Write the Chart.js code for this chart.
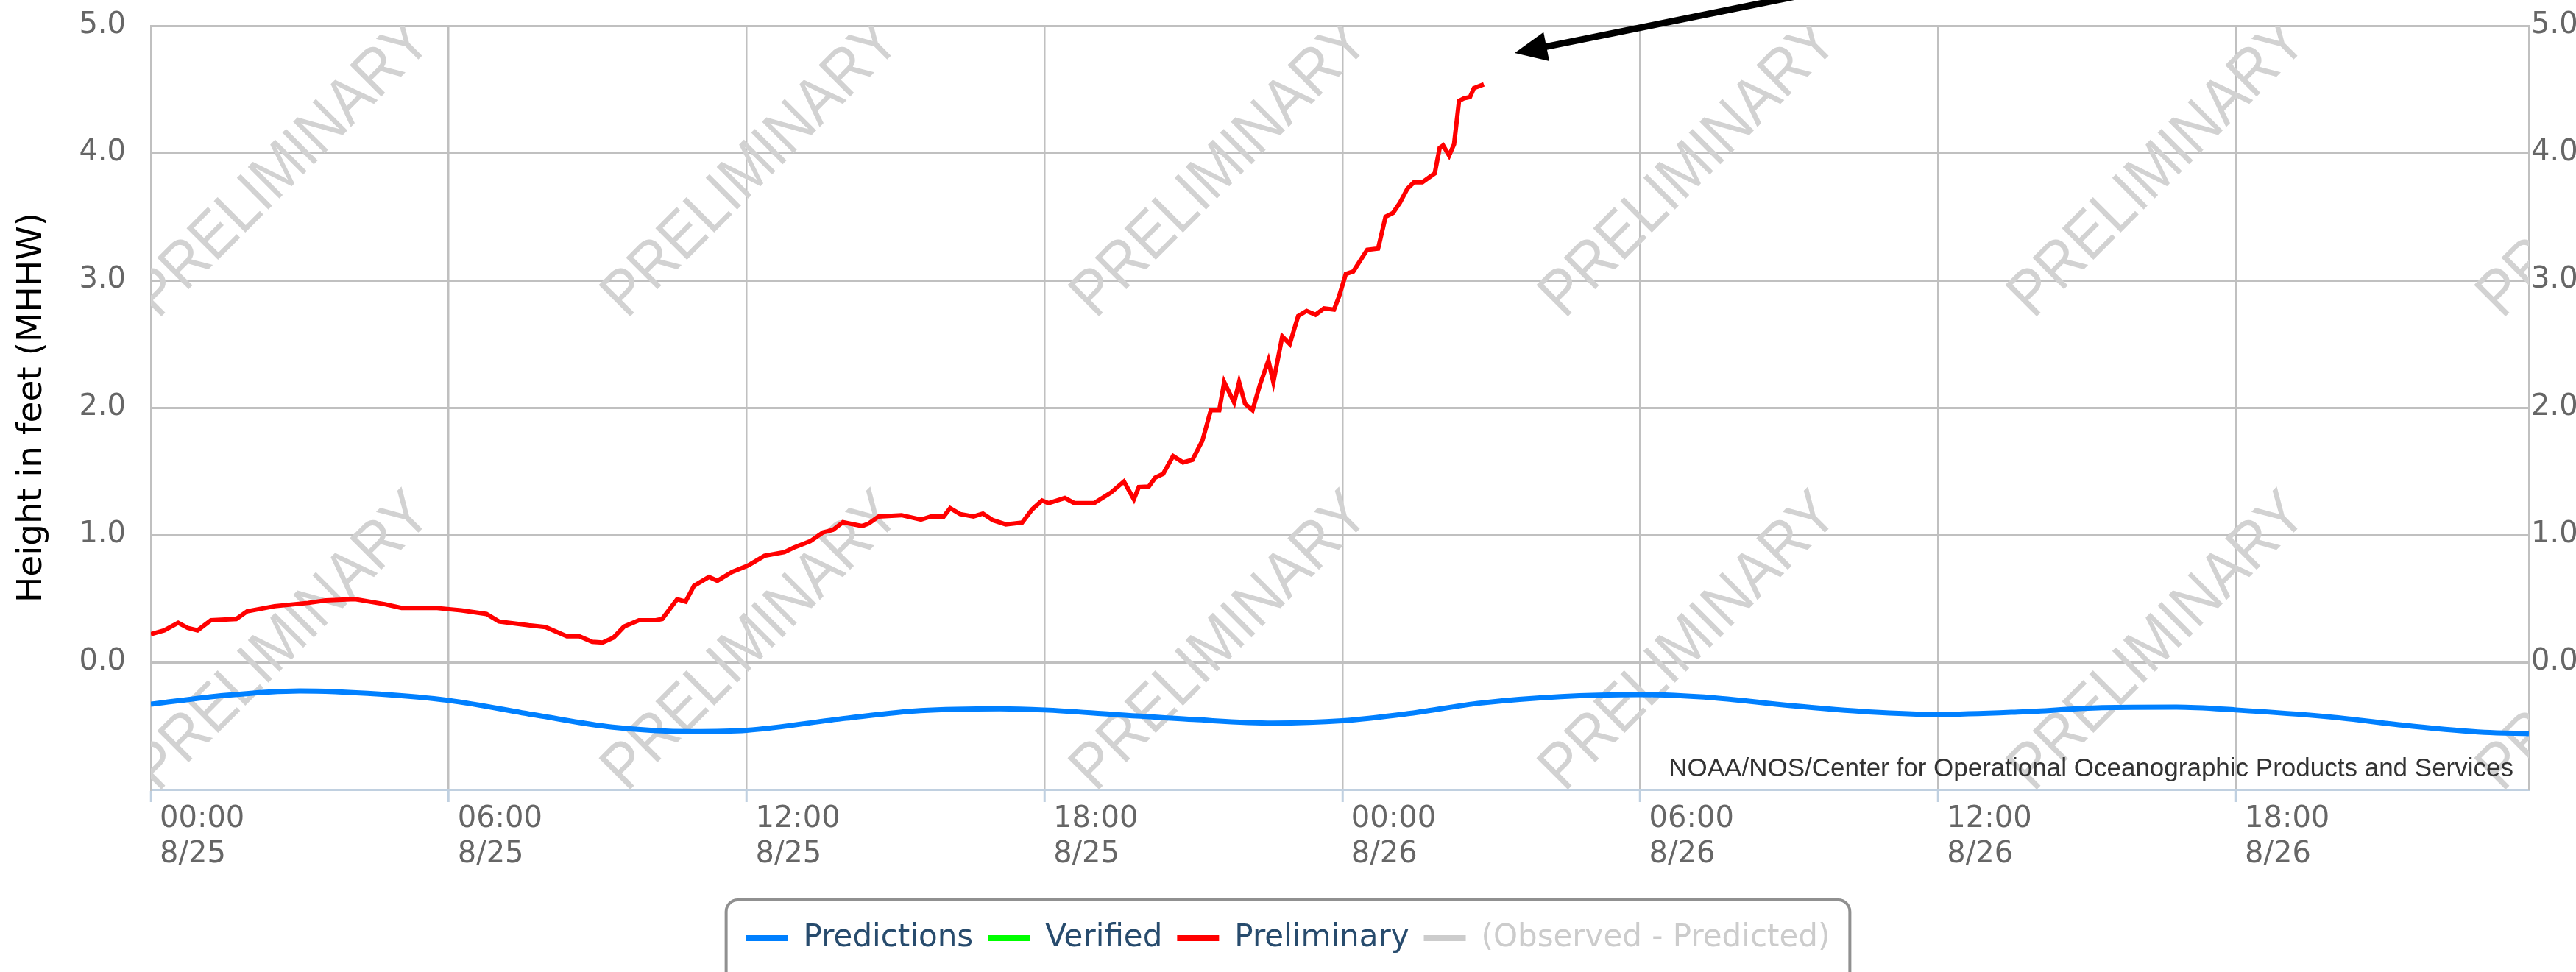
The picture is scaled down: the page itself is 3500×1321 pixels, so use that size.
<!DOCTYPE html>
<html>
<head>
<meta charset="utf-8">
<title>Water level - 8/25 to 8/26</title>
<script src="https://cdn.jsdelivr.net/npm/chart.js@4.4.1/dist/chart.umd.min.js"></script>
<style>
  body { margin: 0; background: #fff; }
  canvas { display: block; }
</style>
</head>
<body>
<canvas id="waterChart" width="3500" height="1321"></canvas>
<script>
// times are hours since 8/25 00:00, heights in feet (MHHW)
const predTimes = [0, 1.5, 3.0, 4.6, 6, 7.75, 9.3, 10.9, 12, 14, 15.5, 17.1, 18, 19.4, 21, 22.6, 24,
    25.3, 26.8, 28.4, 30, 31.5, 33, 34.6, 36, 37.7, 39.3, 40.8, 42, 43.9, 45.5, 47, 47.9];
const predValues = [-0.33, -0.26, -0.225, -0.25, -0.30, -0.415, -0.51, -0.545, -0.535, -0.44, -0.38, -0.365, -0.375, -0.41, -0.45, -0.478, -0.46,
    -0.405, -0.32, -0.27, -0.255, -0.28, -0.34, -0.39, -0.41, -0.39, -0.357, -0.353, -0.375, -0.43, -0.50, -0.55, -0.56];

const prelimTimes = [0, 0.27, 0.55, 0.74, 0.94, 1.21, 1.72, 1.94, 2.49, 3.17, 3.52, 4.11, 4.71, 5.05, 5.73,
    6.25, 6.76, 7.01, 7.61, 7.95, 8.38, 8.63, 8.89, 9.1, 9.32, 9.53, 9.83, 10.17, 10.3, 10.6, 10.77, 10.94,
    11.24, 11.41, 11.71, 12.03, 12.36, 12.76, 12.95, 13.28, 13.54, 13.74, 13.94, 14.33, 14.46, 14.66, 15.12,
    15.51, 15.71, 15.97, 16.1, 16.3, 16.57, 16.76, 16.96, 17.22, 17.55, 17.75, 17.95, 18.08, 18.41, 18.6,
    19.0, 19.33, 19.6, 19.8, 19.9, 20.1, 20.23, 20.39, 20.59, 20.79, 20.98, 21.18, 21.35, 21.52, 21.62,
    21.82, 21.92, 22.04, 22.19, 22.34, 22.51, 22.61, 22.79, 22.94, 23.11, 23.28, 23.46, 23.63, 23.83, 23.93,
    24.07, 24.22, 24.35, 24.5, 24.72, 24.87, 25.02, 25.16, 25.31, 25.44, 25.61, 25.86, 25.96, 26.03, 26.15,
    26.25, 26.35, 26.45, 26.57, 26.65, 26.85];
const prelimValues = [0.22, 0.25, 0.31, 0.27, 0.25, 0.33, 0.34, 0.40, 0.44, 0.466, 0.485, 0.495, 0.456, 0.427, 0.427,
    0.408, 0.379, 0.32, 0.29, 0.276, 0.204, 0.204, 0.16, 0.155, 0.194, 0.28, 0.33, 0.33, 0.34, 0.495, 0.476, 0.60,
    0.67, 0.64, 0.71, 0.76, 0.836, 0.865, 0.90, 0.95, 1.02, 1.04, 1.10, 1.07, 1.09, 1.145, 1.155,
    1.12, 1.145, 1.145, 1.21, 1.164, 1.145, 1.168, 1.116, 1.083, 1.097, 1.20, 1.27, 1.25, 1.29, 1.25,
    1.25, 1.33, 1.42, 1.28, 1.376, 1.38, 1.45, 1.48, 1.62, 1.57, 1.59, 1.74, 1.98, 1.98, 2.2,
    2.04, 2.2, 2.03, 1.98, 2.18, 2.37, 2.2, 2.56, 2.5, 2.72, 2.76, 2.73, 2.78, 2.77, 2.87,
    3.05, 3.07, 3.15, 3.24, 3.25, 3.5, 3.53, 3.61, 3.72, 3.77, 3.77, 3.84, 4.04, 4.06, 3.98,
    4.07, 4.41, 4.43, 4.44, 4.51, 4.54];

const xTicks = [0, 6, 12, 18, 24, 30, 36, 42];
const xTimeLabels = ['00:00', '06:00', '12:00', '18:00', '00:00', '06:00', '12:00', '18:00'];
const xDateLabels = ['8/25', '8/25', '8/25', '8/25', '8/26', '8/26', '8/26', '8/26'];
const yTicks = [-1, 0, 1, 2, 3, 4, 5];

const seriesNames = ['Predictions', 'Verified', 'Preliminary', '(Observed - Predicted)'];
const seriesColors = ['#0080ff', '#00ff00', '#ff0000', '#cccccc'];

Chart.defaults.font.family = '"DejaVu Sans", sans-serif';

function toPoints(times, values) {
    return times.map((t, i) => ({ x: t, y: values[i] }));
}

// "PRELIMINARY" stamps behind the lines
const watermarkPlugin = {
    id: 'watermark',
    beforeDatasetsDraw(chart) {
        const { ctx, chartArea } = chart;
        ctx.save();
        ctx.beginPath();
        ctx.rect(chartArea.left, chartArea.top, chartArea.right - chartArea.left, chartArea.bottom - chartArea.top);
        ctx.clip();
        ctx.font = '88px "Liberation Sans"';
        ctx.fillStyle = '#d2d2d2';
        ctx.textAlign = 'center';
        ctx.textBaseline = 'middle';
        const squeeze = 530 / ctx.measureText('PRELIMINARY').width;
        for (let row = 0; row < 2; row++) {
            for (let col = 0; col < 6; col++) {
                ctx.save();
                ctx.translate(chartArea.left + 180 + col * 637, chartArea.top + 195 + row * 643);
                ctx.rotate(-Math.PI / 4);
                ctx.scale(squeeze, 1);
                ctx.fillText('PRELIMINARY', 0, 0);
                ctx.restore();
            }
        }
        ctx.restore();
    }
};

// credits, legend frame and the pointer arrow
const extrasPlugin = {
    id: 'extras',
    afterDraw(chart) {
        const { ctx, chartArea, legend } = chart;
        ctx.save();

        ctx.font = '35px "Liberation Sans"';
        ctx.fillStyle = '#333';
        ctx.textAlign = 'right';
        ctx.textBaseline = 'middle';
        ctx.fillText('NOAA/NOS/Center for Operational Oceanographic Products and Services',
            chartArea.right - 21, chartArea.bottom - 28);

        const boxes = legend.legendHitBoxes;
        const left = Math.min(...boxes.map(b => b.left)) - 27;
        const right = Math.max(...boxes.map(b => b.left + b.width)) + 27;
        ctx.strokeStyle = '#909090';
        ctx.lineWidth = 4;
        ctx.beginPath();
        ctx.roundRect(left, legend.top - 11, right - left, 200, 16);
        ctx.stroke();

        const tip = { x: 2058, y: 72 };
        const tail = { x: 2445, y: -6 };
        const len = Math.hypot(tip.x - tail.x, tip.y - tail.y);
        const dx = (tip.x - tail.x) / len, dy = (tip.y - tail.y) / len;
        ctx.strokeStyle = '#000';
        ctx.fillStyle = '#000';
        ctx.lineWidth = 9;
        ctx.beginPath();
        ctx.moveTo(tail.x, tail.y);
        ctx.lineTo(tip.x - dx * 30, tip.y - dy * 30);
        ctx.stroke();
        ctx.beginPath();
        ctx.moveTo(tip.x, tip.y);
        ctx.lineTo(tip.x - dx * 44 - dy * 20, tip.y - dy * 44 + dx * 20);
        ctx.lineTo(tip.x - dx * 44 + dy * 20, tip.y - dy * 44 - dx * 20);
        ctx.closePath();
        ctx.fill();
        ctx.restore();
    }
};

const ctx = document.getElementById('waterChart').getContext('2d');
const waterChart = new Chart(ctx, {
    type: 'line',
    data: {
        datasets: [{
            label: seriesNames[0],
            data: toPoints(predTimes, predValues),
            borderColor: seriesColors[0],
            backgroundColor: seriesColors[0],
            borderWidth: 7,
            pointRadius: 0,
            cubicInterpolationMode: 'monotone'
        }, {
            label: seriesNames[1],
            data: [],
            borderColor: seriesColors[1],
            backgroundColor: seriesColors[1]
        }, {
            label: seriesNames[2],
            data: toPoints(prelimTimes, prelimValues),
            borderColor: seriesColors[2],
            backgroundColor: seriesColors[2],
            borderWidth: 6,
            pointRadius: 0,
            tension: 0
        }, {
            label: seriesNames[3],
            data: [],
            borderColor: seriesColors[3],
            backgroundColor: seriesColors[3]
        }]
    },
    options: {
        responsive: false,
        animation: false,
        devicePixelRatio: 1,
        layout: { padding: { top: 35, left: 0, right: 0, bottom: 15 } },
        scales: {
            x: {
                type: 'linear',
                position: 'bottom',
                min: 0,
                max: 47.9,
                afterBuildTicks: s => { s.ticks = xTicks.map(v => ({ value: v })); },
                afterFit: s => { s.height = 161; },
                ticks: {
                    align: 'start',
                    labelOffset: 12,
                    padding: 0,
                    maxRotation: 0,
                    autoSkip: false,
                    color: '#666',
                    font: { size: 40 },
                    callback: (value, index) => [xTimeLabels[index], xDateLabels[index]]
                },
                grid: {
                    color: '#c0c0c0',
                    lineWidth: 2.5,
                    tickColor: '#c0d0e0',
                    tickWidth: 3,
                    tickLength: 17
                },
                border: { color: '#c0d0e0', width: 3 }
            },
            y: {
                position: 'left',
                min: -1,
                max: 5,
                afterBuildTicks: s => { s.ticks = yTicks.map(v => ({ value: v })); },
                afterFit: s => { s.width = 205; },
                ticks: {
                    padding: 0,
                    color: '#666',
                    font: { size: 40 },
                    callback: value => value === -1 ? '' : value.toFixed(1)
                },
                grid: {
                    lineWidth: 3,
                    tickLength: 34,
                    tickColor: 'rgba(0,0,0,0)',
                    color: c => c.tick && c.tick.value === -1 ? 'rgba(0,0,0,0)' : '#c0c0c0'
                },
                border: { color: '#c0c0c0', width: 3 },
                title: {
                    display: true,
                    text: 'Height in feet (MHHW)',
                    color: '#000',
                    font: { size: 47 },
                    padding: { top: 16, bottom: 0 }
                }
            },
            y2: {
                position: 'right',
                min: -1,
                max: 5,
                afterBuildTicks: s => { s.ticks = yTicks.map(v => ({ value: v })); },
                afterFit: s => { s.width = 64; },
                ticks: {
                    padding: 3,
                    color: '#666',
                    font: { size: 40 },
                    callback: value => value === -1 ? '' : value.toFixed(1)
                },
                grid: { display: false, drawTicks: false },
                border: { color: '#c0c0c0', width: 3 }
            }
        },
        plugins: {
            tooltip: { enabled: false },
            legend: {
                position: 'bottom',
                labels: {
                    boxWidth: 57,
                    boxHeight: 8,
                    padding: 20,
                    font: { size: 42 },
                    generateLabels: chart => {
                        const items = Chart.defaults.plugins.legend.labels.generateLabels(chart);
                        items.forEach(item => {
                            item.lineWidth = 0;
                            item.fontColor = item.text.startsWith('(') ? '#cccccc' : '#274b6d';
                        });
                        return items;
                    }
                }
            }
        }
    },
    plugins: [watermarkPlugin, extrasPlugin]
});
</script>
</body>
</html>
